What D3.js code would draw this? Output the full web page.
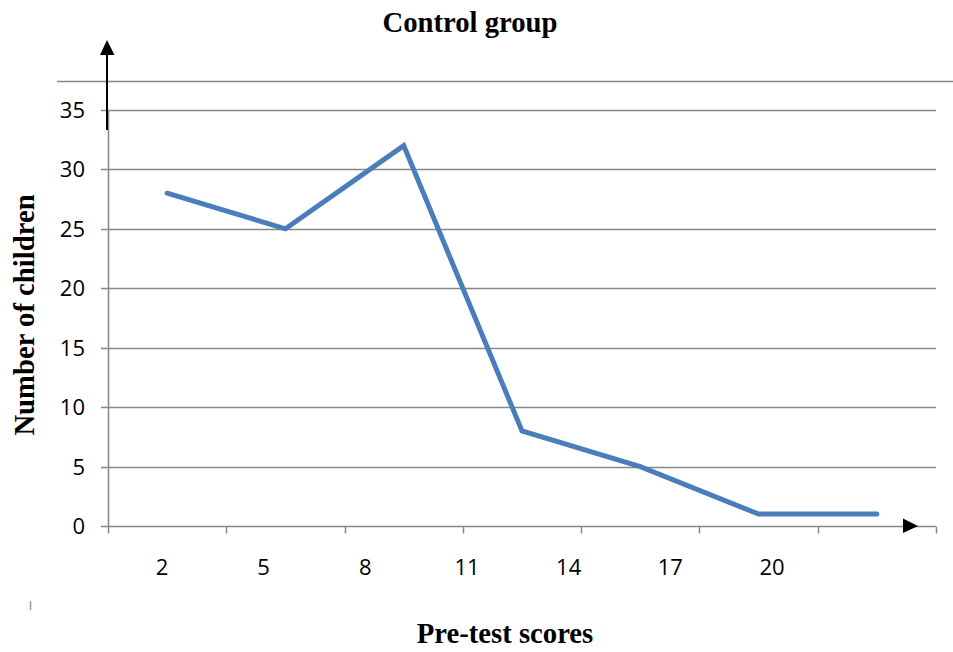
<!DOCTYPE html>
<html>
<head>
<meta charset="utf-8">
<script src="https://cdn.jsdelivr.net/npm/d3@7"></script>
<style>
  html, body { margin: 0; padding: 0; background: #fff; }
  svg { display: block; }
</style>
</head>
<body>
<svg id="chart" width="953" height="652"></svg>
<script>
// Pre-test score distribution for the control group
const categories = ["c1", "c2", "c3", "c4", "c5", "c6", "c7"];
const children = [28, 25, 32, 8, 5, 1, 1];
const scoreLabels = ["2", "5", "8", "11", "14", "17", "20"];
const yTicks = [0, 5, 10, 15, 20, 25, 30, 35];

const W = 953, H = 652;
const margin = { top: 110, right: 17, bottom: 126, left: 108 };
const innerW = W - margin.left - margin.right;
const innerH = H - margin.top - margin.bottom;

const svg = d3.select("#chart");
const g = svg.append("g").attr("transform", `translate(${margin.left},${margin.top})`);

const x = d3.scaleBand().domain(categories).range([0, innerW]).paddingInner(0).paddingOuter(0);
const y = d3.scaleLinear().domain([0, 35]).range([innerH, 0]);

// score labels sit on their own evenly spaced positions under the axis
const xs = d3.scalePoint().domain(scoreLabels).range([54, 664]);

const gridColor = "#878787";
const numFont = "'Open Sans', 'Liberation Sans', sans-serif";
const serifFont = "'Liberation Serif', 'Times New Roman', serif";
const titleSize = 28.7;

// upper frame line
svg.append("line")
  .attr("x1", 57).attr("x2", W)
  .attr("y1", 81.5).attr("y2", 81.5)
  .attr("stroke", gridColor).attr("stroke-width", 1.5);

// horizontal gridlines
g.append("g")
  .selectAll("line")
  .data(yTicks.filter(d => d > 0))
  .join("line")
  .attr("x1", 0).attr("x2", innerW)
  .attr("y1", d => Math.round(y(d)) + 0.5).attr("y2", d => Math.round(y(d)) + 0.5)
  .attr("stroke", gridColor).attr("stroke-width", 1.5);

// y axis
const yAxis = g.append("g")
  .call(d3.axisLeft(y).tickValues(yTicks).tickSize(7).tickPadding(16))
  .call(a => a.select(".domain").attr("stroke", gridColor).attr("stroke-width", 1.5)
    .attr("d", `M0.5,${innerH}V0`));
yAxis.selectAll(".tick line").attr("stroke", gridColor).attr("stroke-width", 1.5);
yAxis.selectAll(".tick").attr("transform", d => `translate(0,${Math.round(y(d)) + 0.5})`);
yAxis.selectAll("text")
  .attr("font-family", numFont).attr("font-size", 22).attr("fill", "#000")
  .attr("dy", "0.35em");

// x axis: category boundaries as tick marks
const bounds = d3.range(categories.length + 1).map(i => i * x.step());
const xAxisG = g.append("g").attr("transform", `translate(0,${Math.round(innerH) + 0.5})`);
xAxisG.append("line")
  .attr("x1", 0).attr("x2", innerW)
  .attr("stroke", gridColor).attr("stroke-width", 1.5);
xAxisG.selectAll(".bt")
  .data(bounds)
  .join("line")
  .attr("class", "bt")
  .attr("x1", d => Math.round(d) + 0.5).attr("x2", d => Math.round(d) + 0.5)
  .attr("y1", 0).attr("y2", 7)
  .attr("stroke", gridColor).attr("stroke-width", 1.5);

// score labels
g.append("g")
  .selectAll("text")
  .data(scoreLabels)
  .join("text")
  .attr("x", d => xs(d))
  .attr("y", innerH + 49)
  .attr("text-anchor", "middle")
  .attr("font-family", numFont).attr("font-size", 22).attr("fill", "#000")
  .text(d => d);

// data line
const line = d3.line()
  .x((d, i) => x(categories[i]) + x.bandwidth() / 2)
  .y(d => y(d));
g.append("path")
  .datum(children)
  .attr("d", line)
  .attr("fill", "none")
  .attr("stroke", "#4a7ebb")
  .attr("stroke-width", 5)
  .attr("stroke-linecap", "round")
  .attr("stroke-linejoin", "miter");

// vertical arrow over the y axis
svg.append("line")
  .attr("x1", 107).attr("x2", 107)
  .attr("y1", 130).attr("y2", 54)
  .attr("stroke", "#000").attr("stroke-width", 2);
svg.append("path")
  .attr("d", "M107,40 L100,55 L114.5,55 Z")
  .attr("fill", "#000");
// arrowhead at the end of the x axis
svg.append("path")
  .attr("d", "M918,526 L903,518.5 L903,533 Z")
  .attr("fill", "#000");

// small stray mark at bottom left
svg.append("line")
  .attr("x1", 30.5).attr("x2", 30.5)
  .attr("y1", 601).attr("y2", 610)
  .attr("stroke", "#999").attr("stroke-width", 1.5);

// titles
svg.append("text")
  .attr("x", 470).attr("y", 32)
  .attr("text-anchor", "middle")
  .attr("font-family", serifFont).attr("font-weight", "bold").attr("font-size", titleSize)
  .text("Control group");

svg.append("text")
  .attr("transform", "translate(34,315) rotate(-90)")
  .attr("text-anchor", "middle")
  .attr("font-family", serifFont).attr("font-weight", "bold").attr("font-size", titleSize)
  .text("Number of children");

svg.append("text")
  .attr("x", 505).attr("y", 643)
  .attr("text-anchor", "middle")
  .attr("font-family", serifFont).attr("font-weight", "bold").attr("font-size", titleSize)
  .text("Pre-test scores");
</script>
</body>
</html>
